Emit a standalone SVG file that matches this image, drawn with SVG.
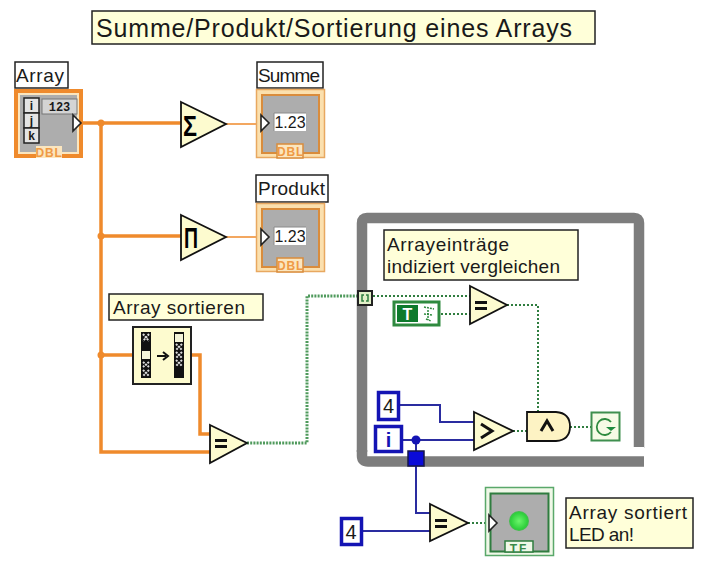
<svg xmlns="http://www.w3.org/2000/svg" width="701" height="563" viewBox="0 0 701 563">
<style>
text{font-family:"Liberation Sans",Arial,sans-serif;fill:#1a1a1a}
.lbl{font-size:19px}
.note{fill:#ffffd9;stroke:#222;stroke-width:1.5}
.white{fill:#fff;stroke:#222;stroke-width:1.5}
.tri{fill:#fdfbcf;stroke:#111;stroke-width:1.8;stroke-linejoin:miter}
.op{font-weight:bold;fill:#000}
.wo{fill:none;stroke:#ef8a2c;stroke-linejoin:miter}
.wb{fill:none;stroke:#2a2ca0;stroke-width:2}
.wd{fill:none;stroke:#2f7d3f;stroke-width:2;stroke-dasharray:2 2}
.wg{fill:none;stroke:#4f9a5c;stroke-width:3;stroke-dasharray:2 1.2}
.nb{fill:#fff;stroke:#1414b4;stroke-width:3.5}
.num{font-size:20px;text-anchor:middle}
.tan{fill:#fbe0ae;stroke:#e8a860;stroke-width:1.5}
.gray{fill:#adadad;stroke:#d98c3c;stroke-width:2}
.dbl{font-size:12px;font-weight:bold;fill:#ef9a45;text-anchor:middle;letter-spacing:.8px}
.arrow{fill:#fff;stroke:#222;stroke-width:1.6}
</style>
<defs>
<radialGradient id="led" cx=".5" cy=".5" r=".55"><stop offset="0" stop-color="#6cf56c"/><stop offset=".75" stop-color="#2fd03c"/><stop offset="1" stop-color="#58a860"/></radialGradient>
<g id="ind">
<rect class="tan" x="0.500" y="0.500" width="68" height="68"/>
<rect class="gray" x="6" y="6" width="57" height="58"/>
<path d="M21 69V55H47V69Z" fill="#fbe6bf" stroke="#d98c3c" stroke-width="1.500"/>
<text class="dbl" x="34.500" y="67">DBL</text>
<rect x="18" y="24" width="32" height="18" fill="#fff"/>
<path d="M18 42V24H50" fill="none" stroke="#8a8a8a"/>
<text x="34" y="39" font-size="16" text-anchor="middle">1.23</text>
<path class="arrow" d="M5 26L13 34L5 42Z"/>
</g>
</defs>

<g id="title"><rect class="note" x="92" y="11" width="503" height="33"/><text x="96" y="37" font-size="25" textLength="476" lengthAdjust="spacing">Summe/Produkt/Sortierung eines Arrays</text></g>

<g id="connectors">
<path class="wo" stroke-width="3.500" d="M83 123H181M101 123V452H210M101 236H181M101 355H133M191 355H200V434H210"/>
<path class="wo" stroke-width="1.500" d="M226 124H260M226 237H260"/>
<circle cx="101" cy="123" r="3.500" fill="#ef8a2c"/><circle cx="101" cy="236" r="3.500" fill="#ef8a2c"/><circle cx="101" cy="355" r="3.500" fill="#ef8a2c"/>
<path class="wg" d="M247 443H307V296H358"/>
</g>

<g id="loop"><path d="M362 452V223Q362 218 367 218H634Q639 218 639 223V448" fill="none" stroke="#7d7d7d" stroke-width="10.500"/><path d="M362 450V456Q362 461.500 368 461.500H644" fill="none" stroke="#7d7d7d" stroke-width="10.500"/><path d="M633 447H644V453H633Z" fill="#fff"/></g>

<g id="loop-connectors">
<path class="wd" d="M373 296H470M441 314H470M507 305H538V412M513 431H527M570 427H591M468 523H485"/>
<path class="wb" d="M400 405H440V422H474M403 440H474M416 440V513H430M363 531H430"/>
<circle cx="416" cy="440" r="4.500" fill="#1414b4"/>
</g>

<g id="array-label"><rect class="white" x="15" y="62" width="53" height="26"/><text class="lbl" x="16" y="82" textLength="48" lengthAdjust="spacing">Array</text></g>
<g id="array">
<rect x="16" y="91" width="65" height="65" fill="#fbe6bf" stroke="#ef8a2c" stroke-width="4"/>
<rect x="20" y="95" width="57" height="57" fill="#adadad"/>
<g fill="#e4e4e4" stroke="#222" stroke-width="1.500"><rect x="24" y="98" width="15" height="15"/><rect x="24" y="113" width="15" height="15"/><rect x="24" y="128" width="15" height="15"/></g>
<g font-size="12" font-weight="bold" text-anchor="middle"><text x="31.500" y="110">i</text><text x="31.500" y="125">j</text><text x="31.500" y="140">k</text></g>
<rect x="42" y="99" width="35" height="15" fill="#d4d4d4" stroke="#777"/>
<text x="59.500" y="111" font-size="12" font-weight="bold" text-anchor="middle" style="font-family:'Liberation Mono',monospace">123</text>
<path class="arrow" d="M73 115L81 123L73 131Z"/>
<rect x="36" y="146" width="26" height="12" fill="#fbe6bf"/>
<text class="dbl" x="49" y="157">DBL</text>
</g>

<g id="sum"><path class="tri" d="M181 102L226 124L181 147Z"/><text class="op" x="183" y="136" font-size="30" textLength="14" lengthAdjust="spacingAndGlyphs">Σ</text></g>
<g id="summe-label"><rect class="white" x="257" y="62" width="66" height="26"/><text class="lbl" x="258" y="82" textLength="62" lengthAdjust="spacing">Summe</text></g>
<g id="summe"><use href="#ind" x="256" y="89"/></g>

<g id="product"><path class="tri" d="M181 215L226 237L181 260Z"/><text class="op" x="184" y="248" font-size="30" textLength="14" lengthAdjust="spacingAndGlyphs">Π</text></g>
<g id="produkt-label"><rect class="white" x="256" y="175" width="72" height="27"/><text class="lbl" x="258" y="195" textLength="67" lengthAdjust="spacing">Produkt</text></g>
<g id="produkt"><use href="#ind" x="256" y="203"/></g>

<g id="sort-label"><rect class="note" x="109" y="294" width="154" height="26"/><text class="lbl" x="113" y="314" textLength="132" lengthAdjust="spacing">Array sortieren</text></g>
<g id="sort">
<rect x="133" y="327" width="58" height="57" fill="#fdfbcf" stroke="#222" stroke-width="2"/>
<rect x="141" y="332" width="10" height="46" fill="#111"/><rect x="174" y="332" width="10" height="46" fill="#111"/>
<g fill="#f4f4d8"><rect x="142" y="351" width="8" height="8"/><rect x="175" y="334" width="8" height="8"/></g>
<g fill="none" stroke="#ddd" stroke-width="2" stroke-dasharray="2 1"><path d="M143 334L149 341M149 334L143 341M143 362L149 367M149 362L143 367M143 370L149 376M149 370L143 376M176 344L182 350M182 344L176 350M176 352L182 358M182 352L176 358M176 360L182 366M182 360L176 366"/></g>
<path d="M157 356H166M163 352L168 356L163 360" fill="none" stroke="#111" stroke-width="2"/>
</g>
<g id="eq1"><path class="tri" d="M210 425L247 443L210 463Z"/><rect x="215" y="439" width="12" height="3" fill="#111"/><rect x="215" y="445" width="12" height="3" fill="#111"/></g>

<g id="tunnel-top"><rect x="358" y="291" width="14" height="14" fill="#e2f0c8" stroke="#222" stroke-width="2"/><path d="M364 295H362V301H364M366 295H368V301H366" fill="none" stroke="#2f7d3f" stroke-width="1.500"/></g>
<g id="note-loop"><rect class="note" x="384" y="230" width="194" height="50"/><text class="lbl" x="387" y="251" textLength="122" lengthAdjust="spacing">Arrayeinträge</text><text class="lbl" x="387" y="273" textLength="173" lengthAdjust="spacing">indiziert vergleichen</text></g>
<g id="true-const"><rect x="394" y="302" width="45" height="23" fill="#fff" stroke="#2f8a3f" stroke-width="3"/><rect x="397" y="305" width="21" height="17" fill="#0d7a2c"/><text x="407.500" y="320" font-size="16" font-weight="bold" text-anchor="middle" style="fill:#fff">T</text><path d="M424 307L434 309M428 310V320M424 314L433 315M426 319L431 321" fill="none" stroke="#2f8a3f" stroke-width="1.500" stroke-dasharray="2 1"/></g>
<g id="eq2"><path class="tri" d="M470 286L507 305L470 324Z"/><rect x="475" y="301" width="12" height="3" fill="#111"/><rect x="475" y="307" width="12" height="3" fill="#111"/></g>

<g id="const-4a"><rect class="nb" x="378.500" y="392.500" width="20" height="27"/><text class="num" x="388.500" y="413">4</text></g>
<g id="index"><rect class="nb" x="375.500" y="426.500" width="26" height="25"/><text class="num" x="388.500" y="447" font-weight="bold" style="fill:#1414b4">i</text></g>
<g id="gt"><path class="tri" d="M474 412L513 431L474 450Z"/><path d="M481 424L492 431L481 438" fill="none" stroke="#111" stroke-width="3"/></g>
<g id="and"><path d="M527 412H556Q570 413 570 426.500Q570 440 556 441H527Z" fill="#fdf3c4" stroke="#111" stroke-width="1.800"/><path d="M541 431L547 421L553 431" fill="none" stroke="#111" stroke-width="3"/></g>
<g id="stop"><rect x="591.500" y="412.500" width="28" height="28" fill="#f6fbe6" stroke="#3f8f4f" stroke-width="2"/><path d="M611 422A8 8 0 1 0 611 432" fill="none" stroke="#2f8a3f" stroke-width="1.800"/><path d="M606 427H616L611 431Z" fill="#1f8a3f"/></g>
<g id="tunnel-bottom"><rect x="408" y="451" width="16" height="15" fill="#0a0ad8" stroke="#16164a" stroke-width="1.500"/></g>

<g id="const-4b"><rect class="nb" x="341.500" y="518.500" width="20" height="26"/><text class="num" x="351" y="539">4</text></g>
<g id="eq3"><path class="tri" d="M430 504L468 523L430 541Z"/><rect x="435" y="519" width="12" height="3" fill="#111"/><rect x="435" y="525" width="12" height="3" fill="#111"/></g>
<g id="led-ind">
<rect x="485.500" y="487.500" width="68" height="68" fill="#f0f8e8" stroke="#5aa86a" stroke-width="1.500"/>
<rect x="490.500" y="493.500" width="58" height="58" fill="#adadad" stroke="#2f7d3f" stroke-width="2"/>
<path d="M505 552V541H533V552Z" fill="#f0f8e8" stroke="#2f7d3f" stroke-width="1.500"/>
<text x="519" y="553" font-size="12" font-weight="bold" text-anchor="middle" letter-spacing="2" style="fill:#3a8a4a">TF</text>
<circle cx="519" cy="521" r="10" fill="url(#led)"/>
<path class="arrow" d="M489 515L497 523L489 531Z"/>
</g>
<g id="note-led"><rect class="note" x="566" y="498" width="127" height="50"/><text class="lbl" x="569" y="519" textLength="118" lengthAdjust="spacing">Array sortiert</text><text class="lbl" x="569" y="541" textLength="65" lengthAdjust="spacing">LED an!</text></g>
</svg>
